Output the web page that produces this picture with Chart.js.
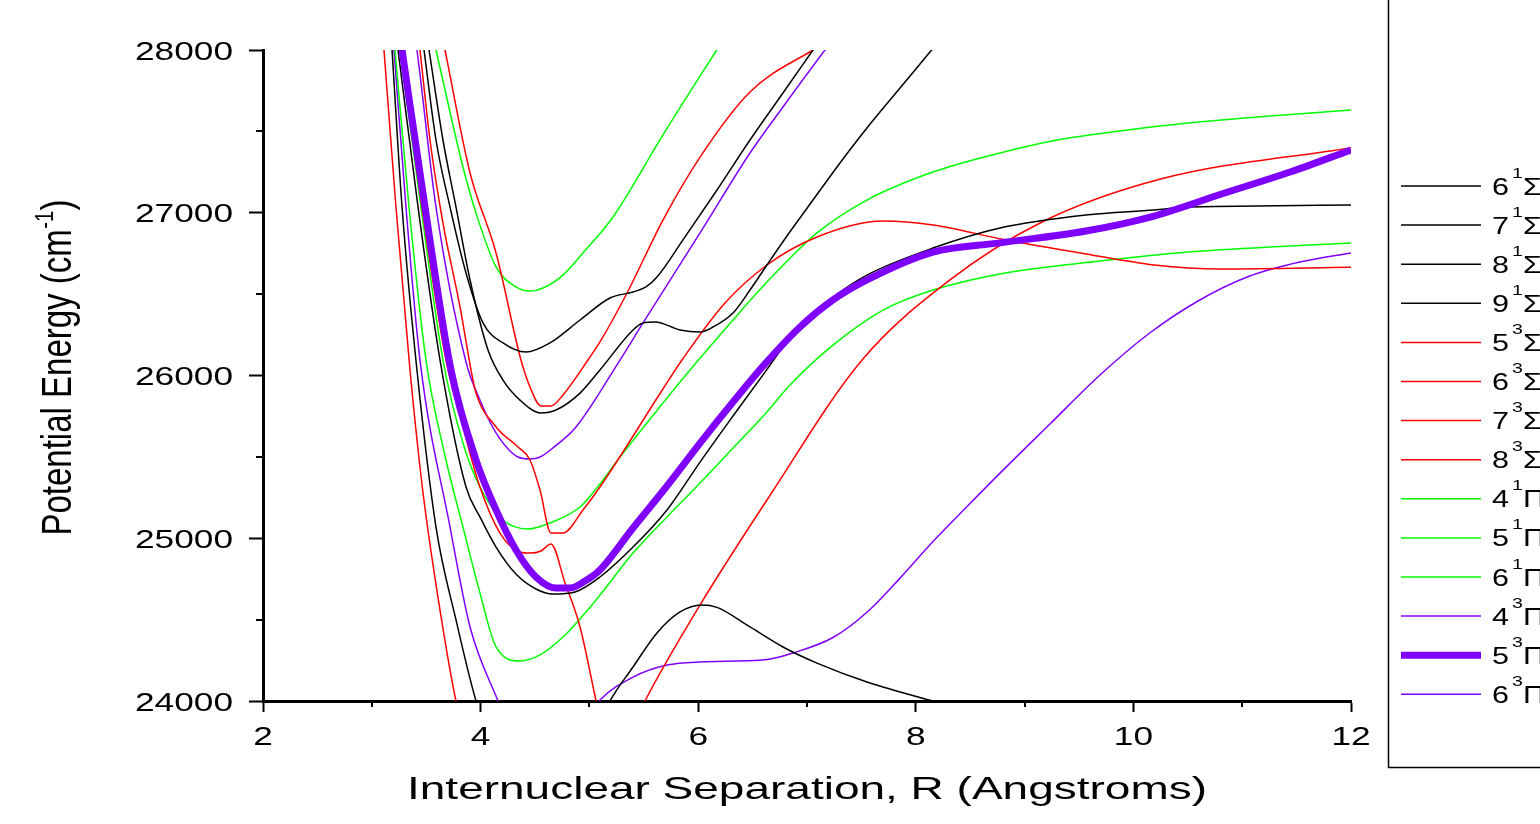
<!DOCTYPE html>
<html>
<head>
<meta charset="utf-8">
<title>Potential energy curves</title>
<script src="https://cdn.jsdelivr.net/npm/chart.js"></script>
<style>
  html, body { margin: 0; padding: 0; background: #fff; }
  canvas { display: block; }
</style>
</head>
<body>
<canvas id="pec" width="1540" height="824"></canvas>
<script>
// each curve is a list of [R (Angstrom), E (cm-1)]
// points above 28000 / below 24000 just carry the line off the plot

const sigma1_6 = [[3.138, 28500], [3.186, 28000], [3.278, 27035], [3.415, 26034], [3.590, 25069], [3.774, 24498], [3.958, 24000], [4.40, 23200], [4.90, 23600], [5.189, 24000], [5.401, 24209], [5.621, 24418], [5.833, 24547], [6.035, 24590], [6.173, 24575], [6.476, 24455], [6.779, 24332], [7.092, 24233], [7.551, 24117], [8.158, 24000], [9.00, 23850]];
const sigma1_7 = [[3.140, 28500], [3.241, 28000], [3.425, 27035], [3.627, 26095], [3.866, 25315], [3.994, 25131], [4.142, 24946], [4.325, 24780], [4.509, 24688], [4.665, 24657], [4.868, 24670], [5.097, 24762], [5.401, 24946], [5.713, 25174], [6.017, 25468], [6.320, 25751], [6.614, 26021], [6.936, 26310], [7.239, 26482], [7.551, 26617], [8.158, 26783], [8.774, 26906], [9.564, 26986], [10.19, 27017], [10.50, 27035], [11.13, 27041], [12.00, 27048]];
const sigma1_8 = [[3.409, 28500], [3.526, 28000], [3.654, 27447], [3.774, 27035], [3.903, 26587], [4.068, 26157], [4.206, 25972], [4.362, 25849], [4.555, 25770], [4.693, 25788], [4.914, 25892], [5.097, 26034], [5.401, 26280], [5.493, 26323], [5.603, 26329], [5.833, 26280], [6.017, 26267], [6.136, 26298], [6.320, 26384], [6.476, 26525], [6.632, 26679], [6.816, 26857], [7.055, 27078], [7.303, 27306], [7.551, 27521], [7.855, 27766], [8.130, 27988], [8.500, 28280]];
const sigma1_9 = [[3.381, 28500], [3.480, 28000], [3.590, 27447], [3.719, 27035], [3.866, 26630], [4.022, 26323], [4.206, 26200], [4.417, 26144], [4.638, 26200], [4.914, 26341], [5.189, 26476], [5.401, 26513], [5.520, 26544], [5.621, 26605], [5.860, 26833], [6.173, 27140], [6.476, 27447], [6.779, 27736], [7.055, 28000], [7.400, 28330]];

const sigma3_5 = [[3.055, 28500], [3.112, 28000], [3.222, 27035], [3.351, 26034], [3.471, 25278], [3.627, 24559], [3.774, 24000], [4.30, 22700], [4.90, 22900], [5.30, 23700], [5.511, 24000], [6.017, 24590], [6.632, 25235], [7.506, 26095], [8.314, 26587], [9.160, 26943], [10.25, 27207], [12.00, 27400]];
const sigma3_6 = [[3.168, 28500], [3.268, 28000], [3.461, 27035], [3.682, 26095], [3.838, 25684], [3.994, 25315], [4.178, 25032], [4.362, 24916], [4.454, 24909], [4.555, 24922], [4.647, 24965], [4.776, 24725], [4.914, 24455], [5.061, 24000], [5.30, 23250]];
const sigma3_7 = [[3.360, 28500], [3.443, 28000], [3.535, 27447], [3.654, 26937], [3.811, 26421], [3.912, 26034], [3.958, 25892], [4.142, 25684], [4.344, 25561], [4.454, 25481], [4.546, 25296], [4.647, 25032], [4.757, 25032], [4.941, 25174], [5.097, 25315], [5.676, 25917], [5.851, 26095], [6.246, 26445], [6.632, 26679], [7.092, 26851], [7.699, 26949], [8.158, 26925], [8.783, 26839], [9.564, 26747], [10.19, 26679], [10.81, 26655], [12.00, 26665]];
const sigma3_8 = [[3.521, 28500], [3.673, 28000], [3.903, 27244], [4.142, 26753], [4.371, 26095], [4.454, 25929], [4.555, 25813], [4.647, 25813], [4.757, 25880], [4.987, 26095], [5.097, 26206], [5.346, 26507], [5.676, 26955], [6.017, 27342], [6.476, 27742], [7.055, 28000], [7.400, 28130]];

const pi1_4 = [[3.146, 28500], [3.213, 28000], [3.342, 27035], [3.498, 26095], [3.682, 25481], [3.838, 25069], [3.994, 24664], [4.142, 24332], [4.362, 24246], [4.546, 24283], [4.757, 24393], [5.061, 24621], [5.401, 24909], [5.713, 25131], [6.017, 25339], [6.320, 25554], [6.632, 25776], [6.844, 25942], [7.239, 26187], [7.699, 26402], [8.158, 26525], [8.774, 26624], [9.693, 26703], [10.50, 26759], [11.44, 26796], [12.00, 26814]];
const pi1_5 = [[3.159, 28500], [3.259, 28000], [3.452, 27035], [3.654, 26095], [3.838, 25585], [3.994, 25315], [4.206, 25112], [4.436, 25057], [4.638, 25094], [4.914, 25192], [5.097, 25333], [5.281, 25499], [5.676, 25831], [5.925, 26034], [6.320, 26341], [6.632, 26574], [7.092, 26876], [7.551, 27078], [8.158, 27250], [8.774, 27367], [9.252, 27441], [9.877, 27502], [10.50, 27551], [11.26, 27594], [12.00, 27631]];
const pi1_6 = [[3.418, 28500], [3.590, 28000], [3.838, 27281], [3.958, 26998], [4.142, 26667], [4.325, 26544], [4.454, 26519], [4.574, 26538], [4.757, 26617], [4.941, 26753], [5.217, 26974], [5.676, 27478], [6.170, 28000], [6.600, 28450]];

const pi3_4 = [[3.147, 28500], [3.204, 28000], [3.314, 27035], [3.443, 26095], [3.719, 25069], [3.903, 24455], [4.160, 24000], [4.50, 23450], [4.85, 23780], [5.097, 24006], [5.401, 24147], [5.713, 24221], [6.017, 24240], [6.632, 24255], [6.871, 24295], [7.239, 24390], [7.551, 24545], [7.855, 24755], [8.158, 24980], [8.471, 25195], [8.774, 25400], [9.233, 25702], [9.693, 26003], [10.15, 26261], [10.61, 26464], [11.07, 26611], [11.53, 26697], [12.00, 26753]];
const pi3_5 = [[3.169, 28500], [3.278, 28000], [3.489, 27035], [3.728, 26034], [3.958, 25481], [4.142, 25174], [4.325, 24928], [4.509, 24762], [4.693, 24694], [4.822, 24694], [4.960, 24737], [5.097, 24805], [5.401, 25063], [5.713, 25321], [6.017, 25585], [6.320, 25837], [6.614, 26071], [6.936, 26298], [7.239, 26464], [7.551, 26587], [8.158, 26758], [8.774, 26815], [9.564, 26888], [10.19, 26980], [10.81, 27115], [11.44, 27250], [12.00, 27386]];
const pi3_6 = [[3.305, 28500], [3.415, 28000], [3.590, 27035], [3.866, 26083], [3.994, 25849], [4.142, 25647], [4.344, 25499], [4.454, 25487], [4.546, 25499], [4.665, 25555], [4.877, 25684], [5.281, 26095], [5.493, 26323], [6.017, 26876], [6.476, 27367], [6.779, 27650], [7.165, 28000], [7.500, 28290]];

const stateLabels = ['6¹Σ⁺', '7¹Σ⁺', '8¹Σ⁺', '9¹Σ⁺', '5³Σ⁺', '6³Σ⁺', '7³Σ⁺', '8³Σ⁺', '4¹Π', '5¹Π', '6¹Π', '4³Π', '5³Π', '6³Π'];
const energyTicks = [24000, 25000, 26000, 27000, 28000];
const separationTicks = [2, 4, 6, 8, 10, 12];
const xTitle = 'Internuclear Separation, R (Angstroms)';
const yTitle = 'Potential Energy (cm';

const BLACK = '#000000';
const RED = '#ff0000';
const GREEN = '#00ff00';
const VIOLET = '#8000ff';
const FONT = '"Liberation Sans", Arial, Helvetica, sans-serif';
const SUPERSCRIPT = { '¹': '1', '³': '3' };

const curves = [
  { points: sigma1_6, color: BLACK },
  { points: sigma1_7, color: BLACK },
  { points: sigma1_8, color: BLACK },
  { points: sigma1_9, color: BLACK },
  { points: sigma3_5, color: RED },
  { points: sigma3_6, color: RED },
  { points: sigma3_7, color: RED },
  { points: sigma3_8, color: RED },
  { points: pi1_4, color: GREEN },
  { points: pi1_5, color: GREEN },
  { points: pi1_6, color: GREEN },
  { points: pi3_4, color: VIOLET },
  { points: pi3_5, color: VIOLET, bold: true },
  { points: pi3_6, color: VIOLET },
];

// canvas text stretched horizontally by sx
const stretchedText = (ctx, text, x, y, size, sx, align) => {
  ctx.save();
  ctx.translate(x, y);
  ctx.scale(sx, 1);
  ctx.font = `${size}px ${FONT}`;
  ctx.textAlign = align;
  ctx.textBaseline = 'alphabetic';
  ctx.fillText(text, 0, 0);
  ctx.restore();
};

const axisText = {
  id: 'axisText',
  afterDraw(chart) {
    const { ctx, chartArea, scales: { x, y } } = chart;
    ctx.save();
    ctx.fillStyle = '#000';
    ctx.strokeStyle = '#000';
    ctx.lineWidth = 2;

    // minor ticks, shorter than the major ones chart.js draws
    ctx.beginPath();
    y.ticks.filter(t => !energyTicks.includes(t.value)).forEach(t => {
      const py = Math.round(y.getPixelForValue(t.value));
      ctx.moveTo(chartArea.left, py);
      ctx.lineTo(chartArea.left - 7, py);
    });
    x.ticks.filter(t => !separationTicks.includes(t.value)).forEach(t => {
      const px = Math.round(x.getPixelForValue(t.value));
      ctx.moveTo(px, chartArea.bottom);
      ctx.lineTo(px, chartArea.bottom + 6);
    });
    ctx.stroke();

    energyTicks.forEach(v => {
      stretchedText(ctx, String(v), 233, y.getPixelForValue(v) + 9.5, 26.5, 1.33, 'right');
    });
    separationTicks.forEach(v => {
      stretchedText(ctx, String(v), x.getPixelForValue(v), 745, 26.5, 1.33, 'center');
    });

    ctx.font = `31.5px ${FONT}`;
    const w = ctx.measureText(xTitle).width;
    stretchedText(ctx, xTitle, 807, 799, 31.5, 800 / w, 'center');

    // rotated y title with the -1 superscript
    ctx.translate(71, 368);
    ctx.scale(1.3, 1);
    ctx.rotate(-Math.PI / 2);
    ctx.textAlign = 'left';
    ctx.textBaseline = 'alphabetic';
    ctx.font = `33px ${FONT}`;
    const wMain = ctx.measureText(yTitle).width;
    const wClose = ctx.measureText(')').width;
    ctx.font = `20px ${FONT}`;
    const wSup = ctx.measureText('-1').width;
    const start = -(wMain + wSup + wClose) / 2;
    ctx.font = `33px ${FONT}`;
    ctx.fillText(yTitle, start, 0);
    ctx.fillText(')', start + wMain + wSup + 1, 0);
    ctx.font = `20px ${FONT}`;
    ctx.fillText('-1', start + wMain + 0.5, -14);
    ctx.restore();
  }
};

const stateLegend = {
  id: 'stateLegend',
  afterDraw(chart) {
    const { ctx } = chart;
    ctx.save();
    ctx.strokeStyle = '#000';
    ctx.lineWidth = 1.5;
    ctx.beginPath();
    ctx.moveTo(1388.5, 0);
    ctx.lineTo(1388.5, 767.5);
    ctx.lineTo(1540, 767.5);
    ctx.stroke();

    chart.data.datasets.forEach((ds, i) => {
      const ly = 186 + i * 39.1;
      ctx.strokeStyle = ds.borderColor;
      ctx.lineWidth = ds.borderWidth;
      ctx.beginPath();
      ctx.moveTo(1401, ly);
      ctx.lineTo(1481, ly);
      ctx.stroke();

      // state number, raised multiplicity, then the symmetry
      ctx.fillStyle = '#000';
      const base = ly + 8.5;
      const label = ds.label;
      stretchedText(ctx, label[0], 1492, base, 23.5, 1.3, 'left');
      stretchedText(ctx, SUPERSCRIPT[label[1]] || label[1], 1512, base - 17, 15, 1.3, 'left');
      stretchedText(ctx, label.slice(2), 1523, base, 23.5, 1.3, 'left');
    });
    ctx.restore();
  }
};

const datasets = curves.map((c, i) => ({
  label: stateLabels[i],
  data: c.points.map(([x, y]) => ({ x, y })),
  borderColor: c.color,
  borderWidth: c.bold ? 7 : 1.5,
  pointRadius: 0,
  tension: 0.4,
  cubicInterpolationMode: 'monotone',
  capBezierPoints: false,
  clip: 0,
  order: c.bold ? 0 : 1,
}));

new Chart(document.getElementById('pec'), {
  type: 'line',
  data: { datasets },
  plugins: [axisText, stateLegend],
  options: {
    responsive: false,
    animation: false,
    events: [],
    layout: { autoPadding: false, padding: { left: 0, top: 50, right: 189, bottom: 0 } },
    plugins: {
      legend: { display: false },
      tooltip: { enabled: false },
    },
    scales: {
      x: {
        type: 'linear',
        min: 2,
        max: 12,
        ticks: { stepSize: 1, display: false },
        grid: {
          drawOnChartArea: false,
          drawTicks: true,
          tickLength: 11,
          tickWidth: 2,
          tickColor: c => (c.tick && separationTicks.includes(c.tick.value) ? '#000' : 'rgba(0,0,0,0)'),
        },
        border: { color: '#000', width: 3 },
        afterFit: s => { s.height = 123; },
      },
      y: {
        type: 'linear',
        min: 24000,
        max: 28000,
        ticks: { stepSize: 500, display: false },
        grid: {
          drawOnChartArea: false,
          drawTicks: true,
          tickLength: 14,
          tickWidth: 2,
          tickColor: c => (c.tick && energyTicks.includes(c.tick.value) ? '#000' : 'rgba(0,0,0,0)'),
        },
        border: { color: '#000', width: 3 },
        afterFit: s => { s.width = 263; },
      },
    },
  },
});
</script>
</body>
</html>
